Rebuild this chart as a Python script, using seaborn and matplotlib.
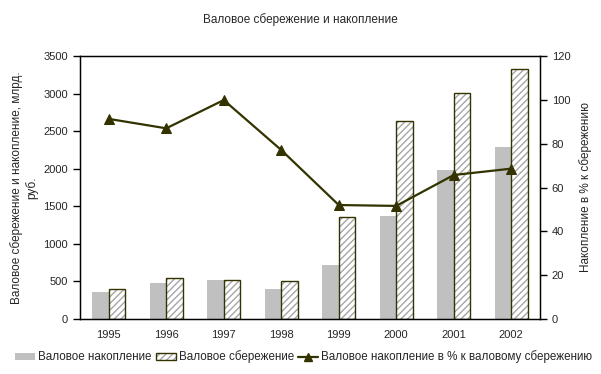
import numpy as np
import pandas as pd
import matplotlib
matplotlib.use("Agg")
import matplotlib.pyplot as plt
import seaborn as sns
from matplotlib.colors import to_rgba
from matplotlib.patches import Patch
from matplotlib.lines import Line2D

years = ["1995", "1996", "1997", "1998", "1999", "2000", "2001", "2002"]
accumulation = [359, 479, 517, 399, 718, 1370, 1983, 2289]
savings = [395, 541, 517, 501, 1353, 2631, 3003, 3323]
ratio = [91.3, 87.0, 99.9, 77.1, 52.0, 51.6, 65.7, 68.6]

name_acc = "Валовое накопление"
name_sav = "Валовое сбережение"
name_ratio = "Валовое накопление в % к валовому сбережению"

sns.set_style("white")
plt.rcParams["font.family"] = ["Liberation Sans", "DejaVu Sans"]
plt.rcParams["hatch.linewidth"] = 1.0

olive = "#333300"
gray = "#c0c0c0"
hatch_gray = "#a6a6a6"

df = pd.DataFrame({
    "year": years * 2,
    "series": [name_acc] * len(years) + [name_sav] * len(years),
    "value": accumulation + savings,
})

fig = plt.figure(figsize=(6.01, 3.74), dpi=100)
ax = fig.add_axes([80 / 601, 1 - 319 / 374, 460 / 601, 263 / 374])

sns.barplot(data=df, x="year", y="value", hue="series", order=years,
            hue_order=[name_acc, name_sav], palette=[gray, "white"],
            width=0.58, gap=0, legend=False, ax=ax, saturation=1)

containers = ax.containers
for p in containers[0]:
    p.set_facecolor(gray)
    p.set_edgecolor("none")
    p.set_linewidth(0)
for p in containers[1]:
    p.set_facecolor("white")
    p.set_edgecolor(olive)
    p.set_linewidth(1.0)
    p.set_hatch("/////")
    p._hatch_color = to_rgba(hatch_gray)

ax.set_ylim(0, 3500)
ax.set_yticks(np.arange(0, 3501, 500))
ax.set_xlim(-0.5, len(years) - 0.5)
ax.set_xlabel("")
ax.set_ylabel("Валовое сбережение и накопление, млрд.\nруб.", fontsize=8.5, labelpad=4)
ax.set_xticks(range(len(years)))
ax.set_xticklabels(years)
ax.set_xticks(np.arange(-0.5, len(years), 1), minor=True)
ax.tick_params(axis="x", which="major", length=0, labelsize=8, pad=8)
ax.tick_params(axis="x", which="minor", length=5, width=1, color="black", direction="out")
ax.tick_params(axis="y", length=5, width=1, color="black", direction="out", labelsize=8, left=True)
for s in ax.spines.values():
    s.set_visible(True)
    s.set_color("black")
    s.set_linewidth(1)

ax2 = ax.twinx()
sns.lineplot(x=list(range(len(years))), y=ratio, ax=ax2, color=olive, lw=1.6,
             marker="^", markersize=6.5, markeredgecolor=olive, markerfacecolor=olive)
ax2.set_ylim(0, 120)
ax2.set_yticks(np.arange(0, 121, 20))
ax2.set_ylabel("Накопление в % к сбережению", fontsize=8.5, labelpad=6)
ax2.tick_params(axis="y", length=5, width=1, color="black", direction="out", labelsize=8, right=True)
for s in ax2.spines.values():
    s.set_visible(True)
    s.set_color("black")
ax2.grid(False)

fig.suptitle("Валовое сбережение и накопление", y=1 - 20 / 374, fontsize=8.5, va="center")

h1 = Patch(facecolor=gray, edgecolor="none", label=name_acc)
h2 = Patch(facecolor="white", edgecolor=olive, hatch="/////", label=name_sav)
h3 = Line2D([], [], color=olive, lw=1.6, marker="^", markersize=6, label=name_ratio)
leg = fig.legend(handles=[h1, h2, h3], loc="center", bbox_to_anchor=(0.505, 1 - 357 / 374),
                 ncol=3, frameon=False, fontsize=8.4, handlelength=1.7, handletextpad=0.25,
                 columnspacing=0.4, handleheight=0.6, borderpad=0, borderaxespad=0)
for p in leg.get_patches():
    if p.get_hatch():
        p._hatch_color = to_rgba(hatch_gray)

fig.savefig("out.png", dpi=100)
